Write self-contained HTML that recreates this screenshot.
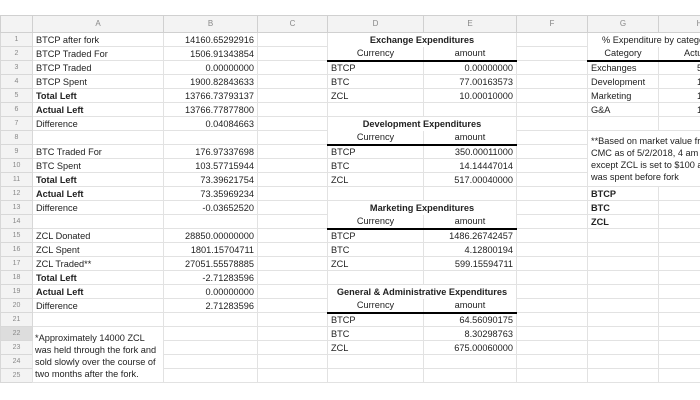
<!DOCTYPE html>
<html><head><meta charset="utf-8"><style>
html,body{margin:0;padding:0;background:#fff;width:700px;height:400px;overflow:hidden}
body{font-family:"Liberation Sans",Arial,sans-serif;font-size:9.2px;color:#222;position:relative}
table{position:absolute;left:0;top:15px;border-collapse:collapse;table-layout:fixed;width:740px}
tr{height:14px}
td{height:13px;max-height:13px;border:1px solid #e2e2e2;padding:0 3px;white-space:nowrap;overflow:hidden;line-height:12px;box-sizing:border-box}
tr.h{height:17px}
tr.h td{height:17px;background:#f3f3f3;color:#888;text-align:center;font-size:8px;border-color:#d0d0d0}
td.n{background:#f3f3f3;color:#888;text-align:center;font-size:7px;border-color:#d8d8d8}
td.sel{background:#ddd}
.r{text-align:right}.c{text-align:center}.b{font-weight:bold}
.tk{border-bottom:2px solid #000}
.nt{border-top-color:transparent}.nb{border-bottom-color:transparent}
.note{position:absolute;font-size:9.2px;line-height:12px;color:#222;white-space:nowrap}
.hv{padding-left:38px}
</style></head><body>
<table>
<colgroup><col style="width:32px"><col style="width:131px"><col style="width:94px"><col style="width:70px"><col style="width:96px"><col style="width:93px"><col style="width:71px"><col style="width:71px"><col style="width:82px"></colgroup>
<tr class="h"><td></td><td>A</td><td>B</td><td>C</td><td>D</td><td>E</td><td>F</td><td>G</td><td>H</td></tr>
<tr><td class="n">1</td><td>BTCP after fork</td><td class="r">14160.65292916</td><td></td><td colspan="2" class="c b nb">Exchange Expenditures</td><td></td><td colspan="2" class="nb" style="padding-left:14px">% Expenditure by category</td></tr>
<tr><td class="n">2</td><td>BTCP Traded For</td><td class="r">1506.91343854</td><td></td><td class="c tk nt">Currency</td><td class="c tk nt">amount</td><td></td><td class="c tk nt">Category</td><td class="tk nt" style="padding-left:25px">Actual</td></tr>
<tr><td class="n">3</td><td>BTCP Traded</td><td class="r">0.00000000</td><td></td><td>BTCP</td><td class="r">0.00000000</td><td></td><td>Exchanges</td><td class="hv">54%</td></tr>
<tr><td class="n">4</td><td>BTCP Spent</td><td class="r">1900.82843633</td><td></td><td>BTC</td><td class="r">77.00163573</td><td></td><td>Development</td><td class="hv">15%</td></tr>
<tr><td class="n">5</td><td class="b">Total Left</td><td class="r">13766.73793137</td><td></td><td>ZCL</td><td class="r">10.00010000</td><td></td><td>Marketing</td><td class="hv">15%</td></tr>
<tr><td class="n">6</td><td class="b">Actual Left</td><td class="r">13766.77877800</td><td></td><td></td><td></td><td></td><td>G&amp;A</td><td class="hv">15%</td></tr>
<tr><td class="n">7</td><td>Difference</td><td class="r">0.04084663</td><td></td><td colspan="2" class="c b nb">Development Expenditures</td><td></td><td></td><td></td></tr>
<tr><td class="n">8</td><td></td><td></td><td></td><td class="c tk nt">Currency</td><td class="c tk nt">amount</td><td></td><td colspan="2" rowspan="4"></td></tr>
<tr><td class="n">9</td><td>BTC Traded For</td><td class="r">176.97337698</td><td></td><td>BTCP</td><td class="r">350.00011000</td><td></td></tr>
<tr><td class="n">10</td><td>BTC Spent</td><td class="r">103.57715944</td><td></td><td>BTC</td><td class="r">14.14447014</td><td></td></tr>
<tr><td class="n">11</td><td class="b">Total Left</td><td class="r">73.39621754</td><td></td><td>ZCL</td><td class="r">517.00040000</td><td></td></tr>
<tr><td class="n">12</td><td class="b">Actual Left</td><td class="r">73.35969234</td><td></td><td></td><td></td><td></td><td class="b">BTCP</td><td></td></tr>
<tr><td class="n">13</td><td>Difference</td><td class="r">-0.03652520</td><td></td><td colspan="2" class="c b nb">Marketing Expenditures</td><td></td><td class="b">BTC</td><td></td></tr>
<tr><td class="n">14</td><td></td><td></td><td></td><td class="c tk nt">Currency</td><td class="c tk nt">amount</td><td></td><td class="b">ZCL</td><td></td></tr>
<tr><td class="n">15</td><td>ZCL Donated</td><td class="r">28850.00000000</td><td></td><td>BTCP</td><td class="r">1486.26742457</td><td></td><td></td><td></td></tr>
<tr><td class="n">16</td><td>ZCL Spent</td><td class="r">1801.15704711</td><td></td><td>BTC</td><td class="r">4.12800194</td><td></td><td></td><td></td></tr>
<tr><td class="n">17</td><td>ZCL Traded**</td><td class="r">27051.55578885</td><td></td><td>ZCL</td><td class="r">599.15594711</td><td></td><td></td><td></td></tr>
<tr><td class="n">18</td><td class="b">Total Left</td><td class="r">-2.71283596</td><td></td><td></td><td></td><td></td><td></td><td></td></tr>
<tr><td class="n">19</td><td class="b">Actual Left</td><td class="r">0.00000000</td><td></td><td colspan="2" class="c b nb">General &amp; Administrative Expenditures</td><td></td><td></td><td></td></tr>
<tr><td class="n">20</td><td>Difference</td><td class="r">2.71283596</td><td></td><td class="c tk nt">Currency</td><td class="c tk nt">amount</td><td></td><td></td><td></td></tr>
<tr><td class="n">21</td><td></td><td></td><td></td><td>BTCP</td><td class="r">64.56090175</td><td></td><td></td><td></td></tr>
<tr><td class="n sel">22</td><td rowspan="4"></td><td></td><td></td><td>BTC</td><td class="r">8.30298763</td><td></td><td></td><td></td></tr>
<tr><td class="n">23</td><td></td><td></td><td>ZCL</td><td class="r">675.00060000</td><td></td><td></td><td></td></tr>
<tr><td class="n">24</td><td></td><td></td><td></td><td></td><td></td><td></td><td></td></tr>
<tr><td class="n">25</td><td></td><td></td><td></td><td></td><td></td><td></td><td></td></tr>
</table>
<div class="note" style="left:591px;top:135px">**Based on market value from<br>CMC as of 5/2/2018, 4 am (<br>except ZCL is set to $100 as<br>was spent before fork</div>
<div class="note" style="left:35px;top:332px">*Approximately 14000 ZCL<br>was held through the fork and<br>sold slowly over the course of<br>two months after the fork.</div>
</body></html>
